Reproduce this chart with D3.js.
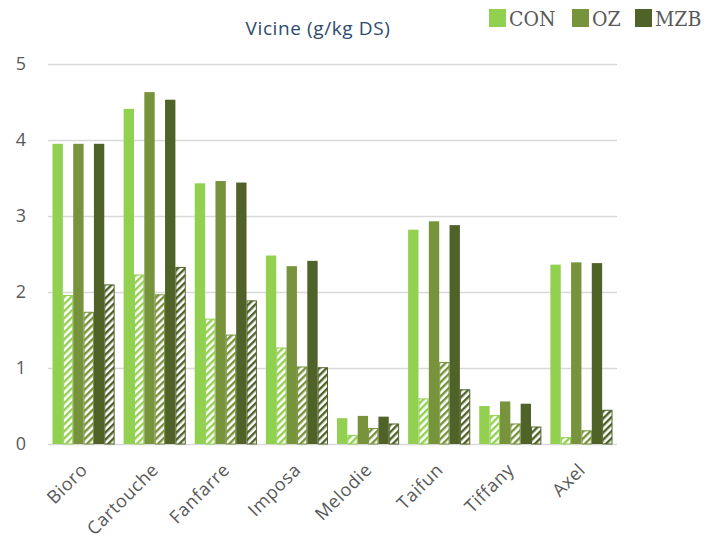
<!DOCTYPE html>
<html>
<head>
<meta charset="utf-8">
<script src="https://cdn.jsdelivr.net/npm/d3@7"></script>
<style>
  body { margin: 0; background: #fff; }
</style>
</head>
<body>
<script>
// data
var varieties = ["Bioro", "Cartouche", "Fanfarre", "Imposa", "Melodie", "Taifun", "Tiffany", "Axel"];
var conSolid  = [3.95, 4.41, 3.43, 2.48, 0.34, 2.82, 0.50, 2.36];
var conHatch  = [1.96, 2.23, 1.65, 1.27, 0.12, 0.60, 0.38, 0.09];
var ozSolid   = [3.95, 4.63, 3.46, 2.34, 0.37, 2.93, 0.56, 2.39];
var ozHatch   = [1.74, 1.97, 1.44, 1.02, 0.21, 1.08, 0.27, 0.18];
var mzbSolid  = [3.95, 4.53, 3.44, 2.41, 0.36, 2.88, 0.53, 2.38];
var mzbHatch  = [2.10, 2.33, 1.89, 1.01, 0.27, 0.72, 0.23, 0.45];
var yTicks = [0, 1, 2, 3, 4, 5];
var legendNames = ["CON", "OZ", "MZB"];

var colors = { CON: "#92d050", OZ: "#77933c", MZB: "#4f6228" };

var series = [
    { key: "conS", group: "CON", hatch: false, values: conSolid },
    { key: "conH", group: "CON", hatch: true,  values: conHatch },
    { key: "ozS",  group: "OZ",  hatch: false, values: ozSolid },
    { key: "ozH",  group: "OZ",  hatch: true,  values: ozHatch },
    { key: "mzbS", group: "MZB", hatch: false, values: mzbSolid },
    { key: "mzbH", group: "MZB", hatch: true,  values: mzbHatch }
];

var margin = { top: 64, left: 48 },
    width = 569,
    height = 380;

var svg = d3.select("body")
    .append("svg")
    .attr("width", 716)
    .attr("height", 541);

// hatch patterns, one per colour
var defs = svg.append("defs");
legendNames.forEach(function (n) {
    var p = defs.append("pattern")
        .attr("id", "hatch-" + n)
        .attr("patternUnits", "userSpaceOnUse")
        .attr("width", 5)
        .attr("height", 5)
        .attr("patternTransform", "rotate(45)");
    p.append("rect").attr("width", 5).attr("height", 5).attr("fill", "#fff");
    p.append("rect").attr("width", 2.4).attr("height", 5).attr("fill", colors[n]);
});

var g = svg.append("g")
    .attr("transform", "translate(" + margin.left + "," + margin.top + ")");

var x0 = d3.scaleBand()
    .domain(varieties)
    .range([0, width]);

var x1 = d3.scaleBand()
    .domain(series.map(function (s) { return s.key; }))
    .range([4.5, x0.bandwidth() - 4.5]);

var y = d3.scaleLinear()
    .domain([0, 5])
    .range([height, 0]);

// gridlines
g.selectAll(".grid")
    .data(yTicks)
    .enter().append("line")
    .attr("x1", 0)
    .attr("x2", width)
    .attr("y1", function (d) { return y(d) + 0.5; })
    .attr("y2", function (d) { return y(d) + 0.5; })
    .attr("stroke", "#d9d9d9")
    .attr("stroke-width", 1.3);

// y labels
g.selectAll(".ylab")
    .data(yTicks)
    .enter().append("text")
    .attr("x", -27)
    .attr("y", function (d) { return y(d); })
    .attr("dy", "0.35em")
    .attr("text-anchor", "middle")
    .style("font-family", "'Open Sans', sans-serif")
    .style("font-size", "18px")
    .style("fill", "#595959")
    .text(function (d) { return d; });

// bars
var groups = g.selectAll(".variety")
    .data(varieties)
    .enter().append("g")
    .attr("transform", function (d) { return "translate(" + x0(d) + ",0)"; });

groups.selectAll("rect")
    .data(function (d, i) {
        return series.map(function (s) { return { s: s, v: s.values[i] }; });
    })
    .enter().append("rect")
    .attr("x", function (d) { return x1(d.s.key) + (d.s.hatch ? 0.5 : 0); })
    .attr("width", function (d) { return x1.bandwidth() - (d.s.hatch ? 1 : 0); })
    .attr("y", function (d) { return y(d.v) + (d.s.hatch ? 0.5 : 0); })
    .attr("height", function (d) { return height - y(d.v) - (d.s.hatch ? 0.5 : 0); })
    .attr("fill", function (d) {
        return d.s.hatch ? "url(#hatch-" + d.s.group + ")" : colors[d.s.group];
    })
    .attr("stroke", function (d) { return d.s.hatch ? colors[d.s.group] : "none"; })
    .attr("stroke-width", 1);

// x labels, rotated
g.selectAll(".xlab")
    .data(varieties)
    .enter().append("text")
    .attr("text-anchor", "end")
    .attr("transform", function (d) {
        return "translate(" + (x0(d) + x0.bandwidth() / 2 + 5) + "," + (height + 27) + ")rotate(-45)";
    })
    .style("font-family", "'Open Sans', sans-serif")
    .style("font-size", "18px")
    .style("letter-spacing", "0.6px")
    .style("fill", "#595959")
    .text(function (d) { return d; });

// title
svg.append("text")
    .attr("x", 318)
    .attr("y", 35)
    .attr("text-anchor", "middle")
    .style("font-family", "'Open Sans', sans-serif")
    .style("font-size", "19px")
    .style("letter-spacing", "0.6px")
    .style("fill", "#2e4a6e")
    .text("Vicine (g/kg DS)");

// legend
var legendX = [489, 572, 635];
var leg = svg.selectAll(".legend")
    .data(legendNames)
    .enter().append("g")
    .attr("transform", function (d, i) { return "translate(" + legendX[i] + ",9)"; });

leg.append("rect")
    .attr("width", 17)
    .attr("height", 18)
    .attr("fill", function (d) { return colors[d]; });

leg.append("text")
    .attr("x", 20)
    .attr("y", 17)
    .style("font-family", "'DejaVu Serif Condensed', 'DejaVu Serif', serif")
    .style("font-size", "21px")
    .style("fill", "#595959")
    .text(function (d) { return d; });
</script>
</body>
</html>
